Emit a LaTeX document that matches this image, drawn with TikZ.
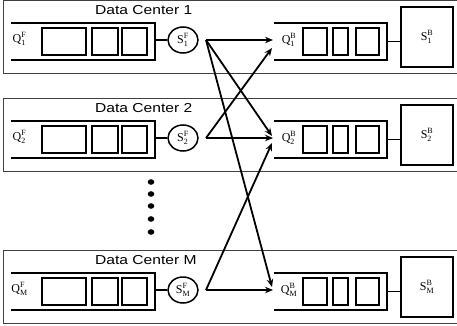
\documentclass[tikz,border=0pt]{standalone}
\usepackage{fontspec}
\usepackage{graphicx}
\setmainfont{Liberation Serif}
\newfontfamily\dcfont{Liberation Sans}
\usetikzlibrary{arrows.meta,shapes.geometric}
\begin{document}
\begin{tikzpicture}[x=1pt,y=-1pt,
  dcbox/.style={draw=black!75,line width=0.9pt},
  qline/.style={line width=2.1pt,line join=miter},
  slot/.style={draw,line width=2pt},
  lbl/.style={inner sep=0pt,font=\fontsize{12}{14}\selectfont},
  srvf/.style={draw,ellipse,line width=1.5pt,minimum width=30pt,minimum height=26pt,inner sep=0pt,font=\fontsize{12}{14}\selectfont},
  srvb/.style={draw,rectangle,line width=2.1pt,minimum width=52pt,minimum height=60pt,inner sep=0pt,font=\fontsize{12}{14}\selectfont},
  dctext/.style={anchor=base west,inner sep=0pt,font=\dcfont\fontsize{13}{15}\selectfont},
  link/.style={line width=1.9pt},
  arr/.style={line width=1.8pt,-{Stealth[length=8pt,width=6.5pt]}},
  dotn/.style={fill,ellipse,minimum width=6.6pt,minimum height=5.6pt,inner sep=0pt}]
\useasboundingbox (0,0) rectangle (457,326);
\foreach \r/\n in {0/1,98/2,250/M}{
  \draw[dcbox] (3,\r+0.8) rectangle (462,\r+73);
  \node[dctext] (dc\n) at (95,\r+14.5) {\scalebox{1.2}[1]{Data Center \n}};
  % front-end queue
  \draw[qline] (11,\r+23) -- (155,\r+23) -- (155,\r+60) -- (11,\r+60);
  \draw[slot] (42,\r+28) rectangle (86,\r+55);
  \draw[slot] (92,\r+28) rectangle (118,\r+55);
  \draw[slot] (122,\r+28) rectangle (147,\r+55);
  \node[lbl] (qf\n) at (19.5,\r+39) {$\mathrm{Q}^{\mathrm{F}}_{\mathrm{\n}}$};
  \coordinate (qfe\n) at (155,\r+40);
  \node[srvf] (sf\n) at (183,\r+40) {$\mathrm{S}^{\mathrm{F}}_{\mathrm{\n}}$};
  \draw[link] (qfe\n) -- (sf\n.west);
  \coordinate (o\n) at (206,\r+40);
  % back-end queue
  \draw[qline] (274,\r+23) -- (387,\r+23) -- (387,\r+60) -- (274,\r+60);
  \draw[slot] (303,\r+28) rectangle (327,\r+55);
  \draw[slot] (333,\r+28) rectangle (348,\r+55);
  \draw[slot] (356,\r+28) rectangle (379,\r+55);
  \node[lbl] (qb\n) at (289,\r+40) {$\mathrm{Q}^{\mathrm{B}}_{\mathrm{\n}}$};
  \coordinate (qbe\n) at (387,\r+41.5);
  \node[srvb] (sb\n) at (427,\r+37) {$\mathrm{S}^{\mathrm{B}}_{\mathrm{\n}}$};
  \draw[link] (qbe\n) -- (qbe\n -| sb\n.west);
}
% arrow end points
\coordinate (t11) at (273,40);
\coordinate (t21) at (272,48);
\coordinate (t12) at (272,136);
\coordinate (t22) at (273,138);
\coordinate (tM2) at (272,143);
\coordinate (t1M) at (272,287);
\coordinate (tMM) at (273,290);
\draw[arr] (o1) -- (t11);
\draw[arr] (o1) -- (t12);
\draw[arr] (o1) -- (t1M);
\draw[arr] (o2) -- (t21);
\draw[arr] (o2) -- (t22);
\draw[arr] (oM) -- (tM2);
\draw[arr] (oM) -- (tMM);
% dots
\foreach \k/\yy in {1/182,2/194,3/206,4/219,5/232}{
  \node[dotn] (dot\k) at (151,\yy) {};
}
\end{tikzpicture}
\end{document}
